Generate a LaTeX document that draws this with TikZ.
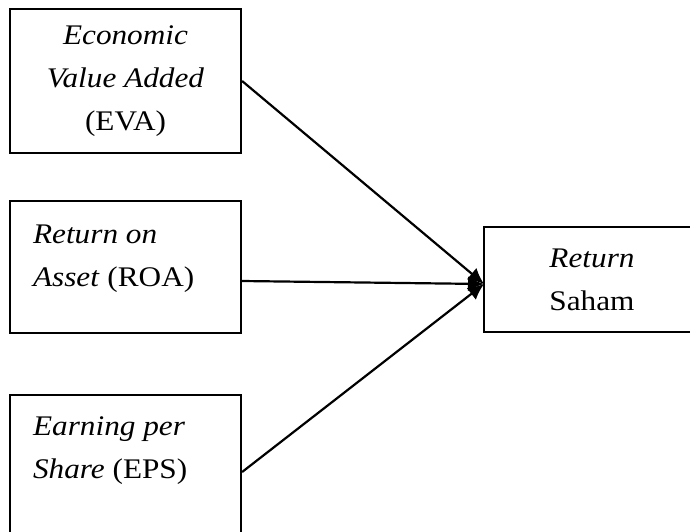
\documentclass[tikz,border=0pt]{standalone}
\usepackage{fontspec}
\setmainfont{Liberation Serif}[FakeStretch=1.1]
\usetikzlibrary{arrows.meta}
\begin{document}
\begin{tikzpicture}[x=0.5pt,y=-0.5pt,line width=1.1pt,>={Latex[length=8pt,width=7.5pt]},
    font=\fontsize{14.2}{21.5}\selectfont]
    \tikzset{box/.style={draw,rectangle,inner sep=0pt,minimum width=115.5pt},
        txt/.style={inner sep=0pt,align=left,anchor=north west}}
    \useasboundingbox (0,0) rectangle (690,531);
    \clip (0,0) rectangle (690,531);
    % variabel independen
    \node[box,minimum height=72pt,align=center] (eva) at (125.5,81)
        {\textit{Economic}\\\textit{Value Added}\\(EVA)};
    \node[box,minimum height=66pt] (roa) at (125.5,267) {};
    \node[box,minimum height=77pt] (eps) at (125.5,472) {};
    \node[txt] (roatxt) at (32,224) {\textit{Return on}\\\textit{Asset} (ROA)};
    \node[txt] (epstxt) at (32,416) {\textit{Earning per}\\\textit{Share} (EPS)};
    % variabel dependen
    \node[box,minimum width=108pt,minimum height=52.5pt,align=center] (rs) at (592,279.5)
        {\textit{Return}\\Saham};
    \coordinate (hub) at (484,284);
    \draw[->] (eva.east)--(hub);
    \draw[->] ([yshift=-7pt]roa.east)--(hub);
    \draw[->] (eps.east)--(hub);
\end{tikzpicture}
\end{document}
